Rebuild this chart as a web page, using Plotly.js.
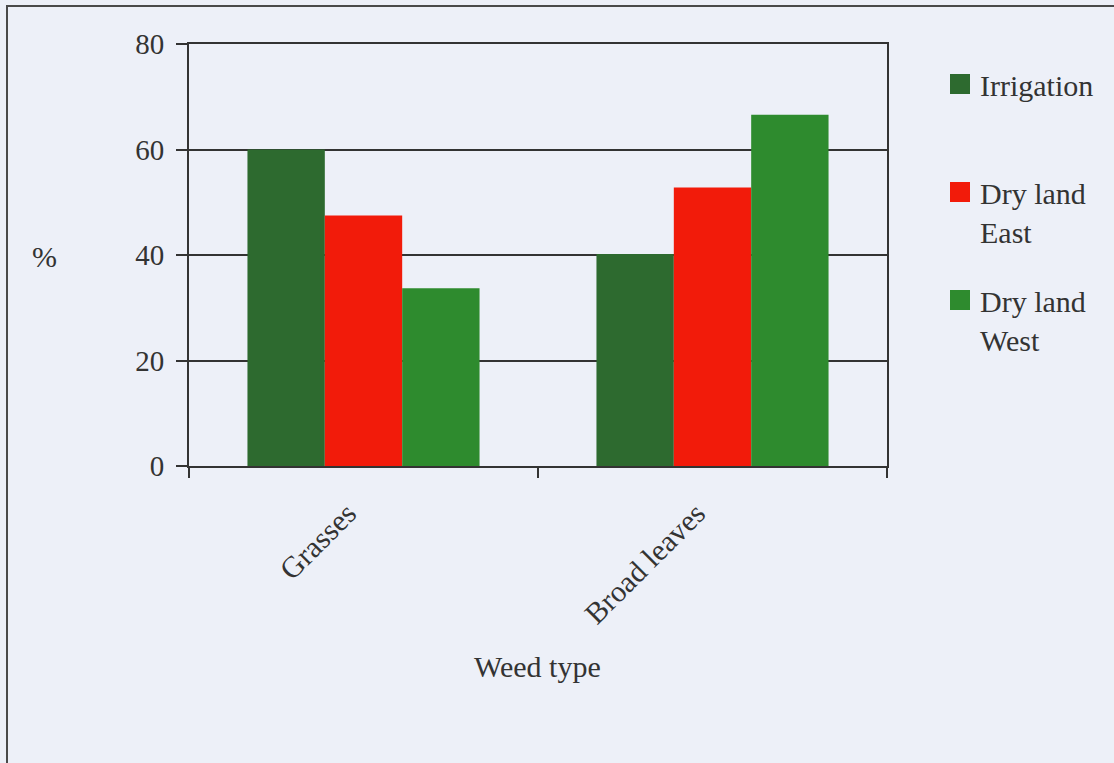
<!DOCTYPE html>
<html>
<head>
<meta charset="utf-8">
<script src="https://cdn.plot.ly/plotly-3.0.1.min.js"></script>
<style>
  html, body { margin: 0; padding: 0; background: #edf0f8; }
  #chart { width: 1114px; height: 763px; }
</style>
</head>
<body>
<div id="chart"></div>
<script>
// Weed composition (%) by weed type and land system
const weedTypes = ["Grasses", "Broad leaves"];
const seriesNames = ["Irrigation", "Dry land<br>East", "Dry land<br>West"];
const irrigation = [60.0, 40.2];
const dryLandEast = [47.5, 52.8];
const dryLandWest = [33.7, 66.6];
const yTicks = [0, 20, 40, 60, 80];

const seriesValues = [irrigation, dryLandEast, dryLandWest];
const seriesColors = ["#2d6a2f", "#f21b0a", "#2e8b2e"];

const serif = '"Liberation Serif", "Times New Roman", serif';
const ink = "#333333";

const traces = seriesNames.map((name, i) => ({
  type: "bar",
  // one-line entry padded to two lines so all legend rows share one pitch
  name: i === 0 ? name + "<br> " : name,
  x: weedTypes,
  y: seriesValues[i],
  marker: { color: seriesColors[i] },
  legendgroup: "g" + i,
  hoverinfo: "x+y+name"
}));

// plot area: left 189, right 887, top 44, bottom 466
const L = 189, R = 887, T = 44, B = 466;
const W = R - L, H = B - T;
const px = x => (x - L) / W;
const py = y => (B - y) / H;

const layout = {
  width: 1114,
  height: 763,
  margin: { l: L, r: 1114 - R, t: T, b: 763 - B },
  paper_bgcolor: "#edf0f8",
  plot_bgcolor: "#edf0f8",
  font: { family: serif, size: 30, color: ink },
  barmode: "group",
  bargap: 0.335,
  bargroupgap: 0,
  showlegend: true,
  legend: {
    x: px(940), xanchor: "left",
    y: py(58), yanchor: "top",
    bgcolor: "rgba(0,0,0,0)",
    font: { family: serif, size: 30, color: ink },
    valign: "top",
    traceorder: "grouped",
    tracegroupgap: 27
  },
  xaxis: {
    type: "category",
    tickson: "boundaries",
    ticks: "outside",
    ticklen: 10,
    tickwidth: 2,
    tickcolor: ink,
    tickangle: -45,
    ticklabelstandoff: 16,
    ticklabelshift: -16,
    showline: true,
    linecolor: ink,
    linewidth: 2,
    mirror: true,
    showgrid: false,
    zeroline: false,
    tickfont: { family: serif, size: 30, color: ink }
  },
  yaxis: {
    range: [0, 80],
    tickvals: yTicks,
    ticktext: yTicks.map(String),
    ticks: "outside",
    ticklen: 11,
    tickwidth: 2,
    tickcolor: ink,
    ticklabelstandoff: 6,
    showline: true,
    linecolor: ink,
    linewidth: 2,
    mirror: true,
    showgrid: true,
    gridcolor: ink,
    gridwidth: 2,
    zeroline: false,
    tickfont: { family: serif, size: 29, color: ink }
  },
  annotations: [
    {
      text: "%", xref: "paper", yref: "paper",
      x: px(44), y: py(256), xanchor: "center", yanchor: "middle",
      showarrow: false, font: { family: serif, size: 30, color: ink }
    },
    {
      text: "Weed type", xref: "paper", yref: "paper",
      x: px(537), y: py(666), xanchor: "center", yanchor: "middle",
      showarrow: false, font: { family: serif, size: 30, color: ink }
    }
  ],
  shapes: [
    {
      type: "rect", xref: "paper", yref: "paper",
      x0: px(7), x1: px(1130), y0: py(780), y1: py(6),
      line: { color: "#4a4a4a", width: 2 },
      fillcolor: "rgba(0,0,0,0)",
      layer: "below"
    }
  ]
};

// larger square swatches in the legend
function enlargeSwatches(gd) {
  gd.querySelectorAll(".legendpoints path").forEach(p => {
    p.setAttribute("d", "M10,10H-10V-10H10Z");
  });
}

const gd = document.getElementById("chart");
Plotly.newPlot(gd, traces, layout, { displayModeBar: false, staticPlot: true });
enlargeSwatches(gd);
gd.on && gd.on("plotly_afterplot", () => enlargeSwatches(gd));
</script>
</body>
</html>
